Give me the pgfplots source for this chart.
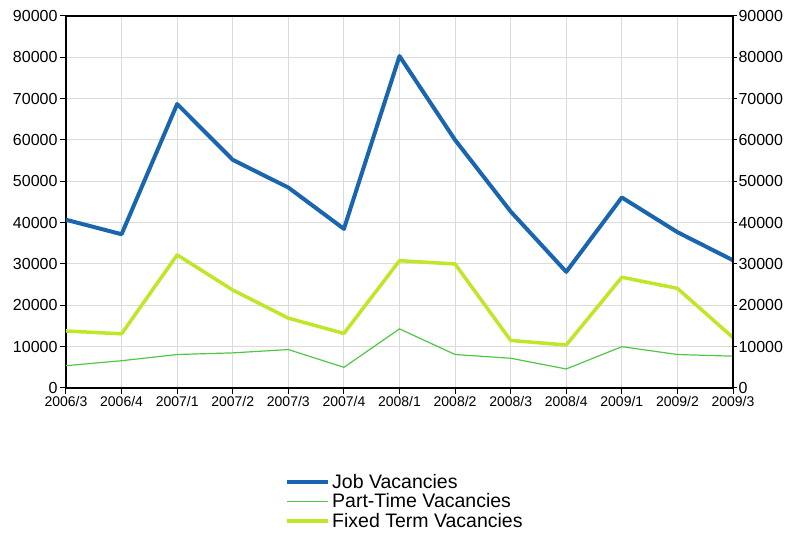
\documentclass[border=0pt]{standalone}
\usepackage{pgfplots}
\pgfplotsset{compat=1.18}
\usepackage{fontspec}
\setmainfont{Liberation Sans}
\definecolor{jobc}{RGB}{26,101,176}
\definecolor{ptc}{RGB}{80,200,70}
\definecolor{ftc}{RGB}{192,230,40}
\begin{document}
\begin{tikzpicture}
\pgfplotsset{
  common/.style={
    width=667pt, height=372pt, scale only axis,
    xmin=0, xmax=12, ymin=0, ymax=90000,
    ytick={0,10000,...,90000},
    scaled y ticks=false,
    /pgf/number format/assume math mode=true,
    /pgf/number format/set thousands separator={},
    tick align=outside,
    major tick length=6pt,
    tick style={black, line width=1pt},
    axis line style={black, line width=1.2pt},
    yticklabel style={font=\fontsize{16}{18}\selectfont},
  }
}
\begin{axis}[common, name=ax,
    xtick={0,...,12},
    xticklabels={2006/3,2006/4,2007/1,2007/2,2007/3,2007/4,2008/1,2008/2,2008/3,2008/4,2009/1,2009/2,2009/3},
    xticklabel style={font=\fontsize{14}{16}\selectfont, yshift=1pt},
    ytick pos=left, xtick pos=bottom,
    grid=major, grid style={gray!28, line width=1pt},
    yticklabel style={xshift=1pt},
    legend style={at={(0.3283,-0.225)}, anchor=north west, draw=none, fill=none,
      inner sep=0pt, font=\fontsize{19.5}{21}\selectfont, row sep=0pt,
      /tikz/every even column/.append style={column sep=4pt}},
    legend cell align=left,
    legend image code/.code={\draw[#1] (0pt,0pt) -- (41pt,0pt);},
]
\addplot[jobc, line width=4pt, line join=round] coordinates {
 (0,40700) (1,37200) (2,68700) (3,55200) (4,48500) (5,38500) (6,80300)
 (7,60000) (8,42700) (9,28100) (10,46100) (11,37700) (12,30900)};
\addlegendentry{Job Vacancies}
\addplot[ptc, line width=1.2pt] coordinates {
 (0,5400) (1,6600) (2,8100) (3,8500) (4,9300) (5,5000) (6,14300)
 (7,8100) (8,7200) (9,4600) (10,10000) (11,8100) (12,7700)};
\addlegendentry{Part-Time Vacancies}
\addplot[ftc, line width=3.5pt, line join=round] coordinates {
 (0,13800) (1,13100) (2,32200) (3,23700) (4,16900) (5,13200) (6,30800)
 (7,30000) (8,11500) (9,10400) (10,26800) (11,24100) (12,12200)};
\addlegendentry{Fixed Term Vacancies}
\end{axis}
\begin{axis}[common,
    axis y line*=right, axis x line=none,
    yticklabel style={xshift=-2pt},
    major tick length=4pt,
]
\addplot[draw=none] coordinates {(0,0)};
\end{axis}
\path[use as bounding box] ([shift={(-66pt,-149pt)}]ax.south west) rectangle ([shift={(54pt,16pt)}]ax.north east);
\end{tikzpicture}
\end{document}
